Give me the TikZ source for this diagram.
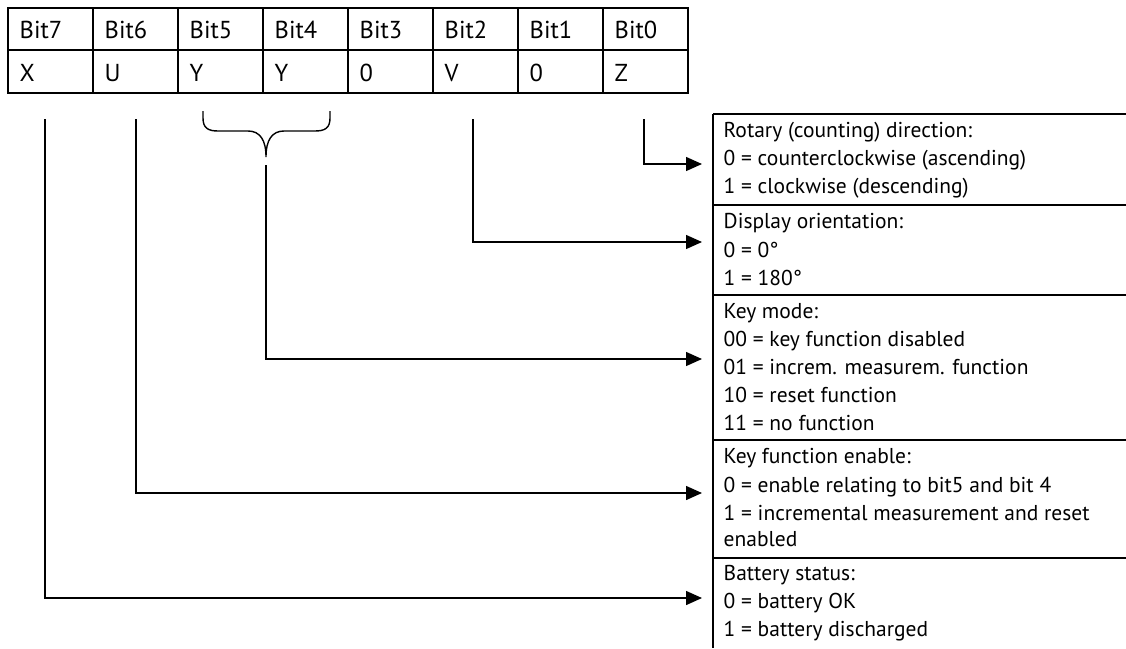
\documentclass[tikz,border=0pt]{standalone}
\usepackage{fontspec}
\setmainfont{PT Sans}
\usetikzlibrary{arrows.meta}
\begin{document}
\begin{tikzpicture}[x=1pt,y=-1pt,
  line width=1.4pt,
  conn/.style={line width=1.4pt},
  arr/.style={conn,-{Triangle[length=16pt,width=14pt]}},
  txt/.style={anchor=base west,inner sep=0pt,font=\fontsize{21.5}{24}\selectfont},
  cell/.style={anchor=base west,inner sep=0pt,font=\fontsize{24.5}{28}\selectfont}]
\useasboundingbox (0,0) rectangle (1126,648);
% table
\draw[line width=2pt] (8,8) rectangle (688,93);
\draw[line width=1.6pt] (8,50) -- (688,50);
\foreach \i in {1,...,7} { \draw[line width=1.6pt] (8+85*\i,8) -- (8+85*\i,93); }
\foreach \lab [count=\i from 0] in {Bit7,Bit6,Bit5,Bit4,Bit3,Bit2,Bit1,Bit0} {
  \node[cell] (b\i) at (8+85*\i+11,38) {\lab};
}
\foreach \lab [count=\i from 0] in {X,U,Y,Y,0,V,0,Z} {
  \node[cell] (v\i) at (8+85*\i+11,81) {\lab};
}
% boxes
\draw[line width=1.6pt] (713,114) -- (713,648);
\foreach \y in {114,205,295,440,558} { \draw[line width=1.6pt] (713,\y) -- (1126,\y); }
\node[txt] (r1) at (723,137) {Rotary (counting) direction:};
\node[txt] (r2) at (723,165) {0 = counterclockwise (ascending)};
\node[txt] (r3) at (723,193) {1 = clockwise (descending)};
\node[txt] (d1) at (723,228) {Display orientation:};
\node[txt] (d2) at (723,257) {0 = 0°};
\node[txt] (d3) at (723,285) {1 = 180°};
\node[txt] (k1) at (723,318) {Key mode:};
\node[txt] (k2) at (723,346) {00 = key function disabled};
\node[txt] (k3) at (723,374) {01 = increm. measurem. function};
\node[txt] (k4) at (723,402) {10 = reset function};
\node[txt] (k5) at (723,430) {11 = no function};
\node[txt] (e1) at (723,463) {Key function enable:};
\node[txt] (e2) at (723,492) {0 = enable relating to bit5 and bit 4};
\node[txt] (e3) at (723,520) {1 = incremental measurement and reset};
\node[txt] (e4) at (723,546) {enabled};
\node[txt] (s1) at (723,580) {Battery status:};
\node[txt] (s2) at (723,608) {0 = battery OK};
\node[txt] (s3) at (723,636) {1 = battery discharged};
% arrow targets
\coordinate (tZ) at (702,164);
\coordinate (tV) at (702,242);
\coordinate (tY) at (702,359);
\coordinate (tU) at (702,493);
\coordinate (tX) at (702,598);
% connector starts
\coordinate (sZ) at (644,119);
\coordinate (sV) at (473,119);
\coordinate (sY) at (266,165);
\coordinate (sU) at (136,119);
\coordinate (sX) at (45,119);
\draw[arr] (sZ) |- (tZ);
\draw[arr] (sV) |- (tV);
\draw[arr] (sY) |- (tY);
\draw[arr] (sU) |- (tU);
\draw[arr] (sX) |- (tX);
% brace
\coordinate (brL) at (203,111);
\coordinate (brR) at (330,111);
\coordinate (brM) at (266,157);
\draw[conn] (brL) -- (203,118) .. controls (203,128) and (208,131) .. (218,131)
  -- (248,131) .. controls (260,131) and (266,140) .. (brM)
  .. controls (266,140) and (272,131) .. (284,131) -- (315,131)
  .. controls (325,131) and (330,128) .. (330,118) -- (brR);
\end{tikzpicture}
\end{document}
